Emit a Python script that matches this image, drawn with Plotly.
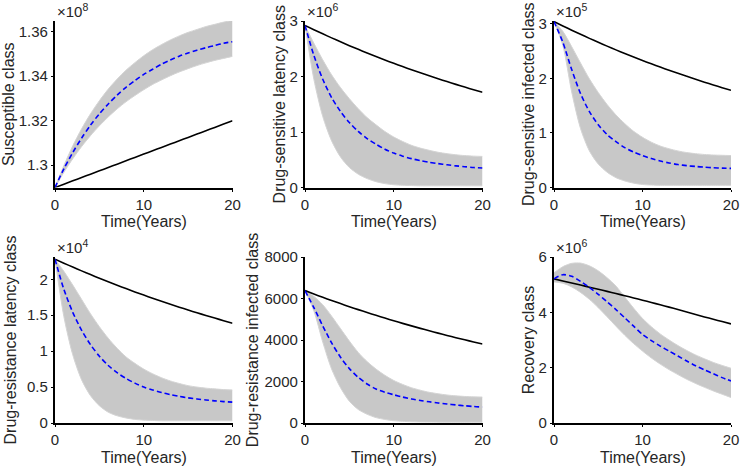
import plotly.graph_objects as go

# ---------------- data ----------------
t = list(range(0, 21))

# Susceptible class (x1e8)
s_mean = [1.2900, 1.2984, 1.3057, 1.3122, 1.3180, 1.3231, 1.3275, 1.3315, 1.3350, 1.3380, 1.3408,
          1.3431, 1.3454, 1.3473, 1.3490, 1.3504, 1.3517, 1.3528, 1.3538, 1.3548, 1.3555]
s_up = [1.2900, 1.2999, 1.3087, 1.3164, 1.3231, 1.3290, 1.3342, 1.3387, 1.3427, 1.3461, 1.3492,
        1.3519, 1.3542, 1.3563, 1.3581, 1.3597, 1.3610, 1.3623, 1.3633, 1.3643, 1.3651]
s_lo = [1.2900, 1.2968, 1.3029, 1.3084, 1.3133, 1.3177, 1.3217, 1.3253, 1.3285, 1.3313, 1.3339,
        1.3363, 1.3383, 1.3402, 1.3419, 1.3434, 1.3448, 1.3460, 1.3471, 1.3480, 1.3489]
s_det = [1.2900, 1.2915, 1.2930, 1.2945, 1.2960, 1.2975, 1.2990, 1.3005, 1.3020, 1.3035, 1.3050,
         1.3065, 1.3080, 1.3095, 1.3110, 1.3125, 1.3140, 1.3155, 1.3170, 1.3185, 1.3200]

# Drug-sensitive latency class (x1e6)
ls_mean = [2.92, 2.38, 1.95, 1.62, 1.37, 1.17, 1.01, 0.88, 0.78, 0.69, 0.62,
           0.565, 0.52, 0.485, 0.455, 0.43, 0.41, 0.39, 0.375, 0.36, 0.35]
ls_up = [2.92, 2.60, 2.30, 2.03, 1.80, 1.60, 1.42, 1.26, 1.13, 1.01, 0.91,
         0.83, 0.76, 0.71, 0.67, 0.635, 0.61, 0.59, 0.575, 0.565, 0.56]
ls_lo = [2.92, 1.95, 1.28, 0.84, 0.55, 0.36, 0.24, 0.16, 0.105, 0.07, 0.05,
         0.04, 0.035, 0.03, 0.03, 0.03, 0.03, 0.03, 0.03, 0.03, 0.03]
ls_det = [2.92, 2.843, 2.769, 2.696, 2.625, 2.556, 2.489, 2.424, 2.360, 2.298, 2.238,
          2.179, 2.122, 2.066, 2.012, 1.959, 1.908, 1.858, 1.809, 1.762, 1.716]

# Drug-sensitive infected class (x1e5)
is_mean = [3.04, 2.66, 2.16, 1.72, 1.39, 1.15, 0.97, 0.84, 0.73, 0.65, 0.585,
           0.53, 0.485, 0.45, 0.42, 0.40, 0.385, 0.372, 0.362, 0.355, 0.35]
is_up = [3.04, 2.86, 2.58, 2.28, 1.99, 1.74, 1.52, 1.33, 1.17, 1.03, 0.92,
         0.83, 0.76, 0.71, 0.67, 0.64, 0.62, 0.605, 0.595, 0.59, 0.585]
is_lo = [3.04, 2.60, 1.75, 1.08, 0.67, 0.43, 0.28, 0.18, 0.12, 0.08, 0.055,
         0.045, 0.04, 0.04, 0.04, 0.04, 0.04, 0.04, 0.04, 0.04, 0.04]
is_det = [3.04, 2.960, 2.882, 2.806, 2.732, 2.660, 2.590, 2.521, 2.455, 2.390, 2.327,
          2.265, 2.206, 2.147, 2.091, 2.036, 1.982, 1.930, 1.879, 1.829, 1.781]

# Drug-resistance latency class (x1e4)
lr_mean = [2.28, 1.86, 1.54, 1.29, 1.09, 0.93, 0.80, 0.70, 0.62, 0.555, 0.50,
           0.46, 0.425, 0.395, 0.37, 0.35, 0.335, 0.32, 0.308, 0.298, 0.29]
lr_up = [2.28, 2.11, 1.92, 1.72, 1.52, 1.34, 1.18, 1.04, 0.92, 0.83, 0.75,
         0.685, 0.63, 0.585, 0.55, 0.52, 0.50, 0.485, 0.475, 0.465, 0.46]
lr_lo = [2.28, 1.48, 0.95, 0.60, 0.38, 0.24, 0.15, 0.10, 0.07, 0.05, 0.04,
         0.035, 0.03, 0.03, 0.03, 0.03, 0.03, 0.03, 0.03, 0.03, 0.03]
lr_det = [2.28, 2.224, 2.170, 2.117, 2.065, 2.014, 1.965, 1.917, 1.870, 1.824, 1.780,
          1.736, 1.693, 1.652, 1.612, 1.572, 1.534, 1.496, 1.460, 1.424, 1.389]

# Drug-resistance infected class
ir_mean = [6380, 5560, 4680, 3860, 3170, 2620, 2200, 1880, 1640, 1480, 1360,
           1250, 1160, 1085, 1020, 965, 915, 870, 830, 795, 770]
ir_up = [6380, 6100, 5700, 5150, 4550, 3950, 3400, 2960, 2600, 2300, 2050,
         1860, 1700, 1580, 1480, 1410, 1350, 1310, 1280, 1260, 1250]
ir_lo = [6380, 5400, 3900, 2600, 1700, 1050, 650, 420, 260, 170, 110,
         80, 60, 50, 45, 40, 40, 40, 40, 40, 40]
ir_det = [6380, 6217, 6059, 5904, 5754, 5607, 5464, 5325, 5189, 5057, 4928,
          4802, 4680, 4561, 4444, 4331, 4221, 4113, 4008, 3906, 3806]

# Recovery class (x1e6)
r_mean = [5.21, 5.36, 5.30, 5.12, 4.90, 4.65, 4.38, 4.10, 3.80, 3.50, 3.20,
          2.98, 2.78, 2.60, 2.42, 2.24, 2.07, 1.92, 1.78, 1.64, 1.52]
r_up = [5.43, 5.65, 5.77, 5.78, 5.68, 5.50, 5.25, 4.95, 4.55, 4.15, 3.78,
        3.48, 3.22, 3.00, 2.80, 2.62, 2.46, 2.32, 2.19, 2.08, 1.98]
r_lo = [5.10, 5.05, 4.92, 4.72, 4.47, 4.17, 3.84, 3.50, 3.17, 2.87, 2.60,
        2.35, 2.13, 1.93, 1.75, 1.58, 1.43, 1.29, 1.16, 1.04, 0.92]
r_det = [5.21, 5.135, 5.06, 4.985, 4.91, 4.835, 4.758, 4.68, 4.60, 4.52, 4.44,
         4.357, 4.273, 4.188, 4.101, 4.013, 3.924, 3.834, 3.75, 3.665, 3.58]

titles = ["Susceptible class", "Drug-sensitive latency class", "Drug-sensitive infected class",
          "Drug-resistance latency class", "Drug-resistance infected class", "Recovery class"]
xtitle = "Time(Years)"
exponents = ["8", "6", "5", "4", None, "6"]
yticks = [[1.30, 1.32, 1.34, 1.36], [0, 1, 2, 3], [0, 1, 2, 3],
          [0, 0.5, 1, 1.5, 2], [0, 2000, 4000, 6000, 8000], [0, 2, 4, 6]]
yticktext = [["1.3", "1.32", "1.34", "1.36"], ["0", "1", "2", "3"], ["0", "1", "2", "3"],
             ["0", "0.5", "1", "1.5", "2"], ["0", "2000", "4000", "6000", "8000"], ["0", "2", "4", "6"]]
yranges = [[1.29, 1.3648], [0, 3.0], [0, 3.05], [0, 2.31], [0, 8000], [0, 6]]
xticks = [0, 10, 20]

panels = [(s_lo, s_up, s_det, s_mean), (ls_lo, ls_up, ls_det, ls_mean), (is_lo, is_up, is_det, is_mean),
          (lr_lo, lr_up, lr_det, lr_mean), (ir_lo, ir_up, ir_det, ir_mean), (r_lo, r_up, r_det, r_mean)]

# ---------------- layout geometry ----------------
W, H = 740, 469
xdom_px = [(55, 232.5), (305, 482.5), (554, 731)]
ydom_px = [(21, 187.5), (257, 423)]
xtitle_px = [221, 457]
ytitle_standoff = [13, 0, 0, 6, 2, 0]

FONT = "Liberation Sans, Arial, Helvetica, sans-serif"
TXT = "#262626"
BAND = "#c8c8c8"

fig = go.Figure()
annotations = []
layout = dict(width=W, height=H, margin=dict(l=0, r=0, t=0, b=0, autoexpand=False),
              paper_bgcolor="white", plot_bgcolor="white", showlegend=False,
              font=dict(family=FONT, size=15, color=TXT))

for i, (lo, up, det, mean) in enumerate(panels):
    row, col = divmod(i, 3)
    xa = "x" if i == 0 else f"x{i+1}"
    ya = "y" if i == 0 else f"y{i+1}"
    fig.add_trace(go.Scatter(x=t, y=lo, xaxis=xa, yaxis=ya, mode="lines",
                             line=dict(color="#d4d4d4", width=1, shape="spline", smoothing=0.8),
                             hoverinfo="skip"))
    fig.add_trace(go.Scatter(x=t, y=up, xaxis=xa, yaxis=ya, mode="lines", fill="tonexty",
                             fillcolor=BAND,
                             line=dict(color="#d4d4d4", width=1, shape="spline", smoothing=0.8),
                             hoverinfo="skip"))
    fig.add_trace(go.Scatter(x=t, y=det, xaxis=xa, yaxis=ya, mode="lines",
                             line=dict(color="black", width=1.6, shape="spline", smoothing=0.8)))
    fig.add_trace(go.Scatter(x=t, y=mean, xaxis=xa, yaxis=ya, mode="lines",
                             line=dict(color="#0000ff", width=1.6, dash="5px,3px",
                                       shape="spline", smoothing=0.8)))

    x0, x1 = xdom_px[col]
    y0, y1 = ydom_px[row]
    xdom = [x0 / W, x1 / W]
    ydom = [1 - y1 / H, 1 - y0 / H]
    common = dict(showgrid=False, zeroline=False, showline=True, linecolor="black", linewidth=2.2,
                  ticks="outside", ticklen=2, tickwidth=1.2, tickcolor="black", automargin=False,
                  tickfont=dict(family=FONT, size=15, color=TXT))
    layout["xaxis" if i == 0 else f"xaxis{i+1}"] = dict(
        common, domain=xdom, anchor=ya, range=[0, 20], tickvals=xticks)
    layout["yaxis" if i == 0 else f"yaxis{i+1}"] = dict(
        common, domain=ydom, anchor=xa, range=yranges[i], tickvals=yticks[i], ticktext=yticktext[i],
        title=dict(text=titles[i], font=dict(family=FONT, size=16, color=TXT),
                   standoff=ytitle_standoff[i]))
    # x-axis title placed as a text label centred under the axis
    annotations.append(dict(xref="paper", yref="paper", x=(xdom[0] + xdom[1]) / 2,
                            y=1 - xtitle_px[row] / H, xanchor="center", yanchor="middle",
                            text=xtitle, showarrow=False, borderpad=0,
                            font=dict(family=FONT, size=16, color=TXT)))
    if exponents[i]:
        annotations.append(dict(xref="paper", yref="paper", x=xdom[0], y=ydom[1],
                                xanchor="left", yanchor="bottom", xshift=0, yshift=-1,
                                text=f"×10<sup>{exponents[i]}</sup>", showarrow=False,
                                font=dict(family=FONT, size=15, color=TXT)))

layout["annotations"] = annotations
fig.update_layout(**layout)
fig.write_html("out.html", config={"displayModeBar": False},
               post_script="document.body.style.margin='0px';")
